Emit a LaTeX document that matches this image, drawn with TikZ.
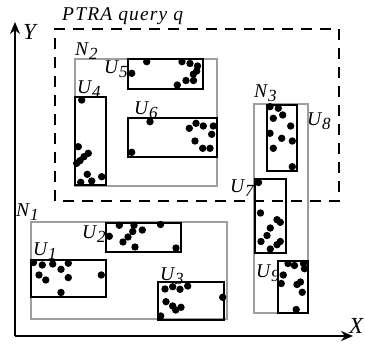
\documentclass[tikz,border=0pt]{standalone}
\usepackage{fontspec}
\setmainfont{Liberation Serif}
\usetikzlibrary{arrows.meta}
\newcommand{\lb}[2]{#1\kern0.8pt\raisebox{-4.5pt}{\fontsize{17}{17}\selectfont #2}}
\tikzset{
  grp/.style={draw=black!38, line width=1.8pt},
  mbr/.style={draw=black, line width=1.8pt},
  qry/.style={draw=black, line width=2.8pt, dash pattern=on 11pt off 8pt},
  axis/.style={draw=black, line width=1.6pt, -{Stealth[length=12pt,width=10pt]}},
  lab/.style={anchor=base west, inner sep=0pt, font=\fontsize{19.5}{19.5}\selectfont\itshape},
  axl/.style={anchor=base west, inner sep=0pt, font=\fontsize{23}{23}\selectfont\itshape},
  pt/.style={fill=black}
}
\newcommand{\mypts}[1]{\foreach \a/\b in {#1} {\fill[pt] (\a,\b) circle (3.7pt);}}
\begin{document}
\begin{tikzpicture}[x=1pt,y=-1pt]
\useasboundingbox (0,0) rectangle (365,346);
% axes
\coordinate (O) at (15,336);
\coordinate (Ytip) at (15,22);
\coordinate (Xtip) at (353,336);
\draw[axis] (O) -- (Ytip);
\draw[axis] (O) -- (Xtip);
\node[axl] (Y) at (23,39) {Y};
\node[axl] (X) at (349,333) {X};
% query
\draw[qry] (55,201) -- (55,29) -- (339,29) -- (339,201) -- cycle;
\node[lab, font=\fontsize{19.5}{19.5}\selectfont\itshape\addfontfeatures{LetterSpace=6}] (Q) at (62,20) {PTRA query q};
% N2
\draw[grp] (75,59) rectangle (217,186);
\draw[mbr] (128,59) rectangle (203,89);
\draw[mbr] (75,97) rectangle (106,185);
\draw[mbr] (128,118) rectangle (217,157);
% N3
\draw[grp] (254,104) rectangle (308,313);
\draw[mbr] (267,105) rectangle (297,171);
\draw[mbr] (255,179) rectangle (286,253);
\draw[mbr] (278,261) rectangle (308,313);
% N1
\draw[grp] (31,222) rectangle (227,319);
\draw[mbr] (31,260) rectangle (106,297);
\draw[mbr] (106,223) rectangle (181,252);
\draw[mbr] (158,282) rectangle (224,320);
% labels
\node[lab] (N2) at (75,55) {\lb{N}{2}};
\node[lab] (U5) at (104,73) {\lb{U}{5}};
\node[lab] (U4) at (77,93) {\lb{U}{4}};
\node[lab] (U6) at (134,114) {\lb{U}{6}};
\node[lab] (N3) at (254,97) {\lb{N}{3}};
\node[lab] (U8) at (307,125) {\lb{U}{8}};
\node[lab] (U7) at (230,192) {\lb{U}{7}};
\node[lab] (U9) at (256,277) {\lb{U}{9}};
\node[lab] (N1) at (16,216) {\lb{N}{1}};
\node[lab] (U2) at (82,238) {\lb{U}{2}};
\node[lab] (U1) at (33,255) {\lb{U}{1}};
\node[lab] (U3) at (160,280) {\lb{U}{3}};
% points
\mypts{131.7/73.3,146.7/61.7,182/61.7,190/63.5,197.5/66,196.7/71,193.3/74.3,186/80.5,193.5/80.5,177.3/85}
\mypts{81.7/100,78.3/146.7,88.3/153.3,84/156.7,80/160.7,76.7/163.3,87.3/174.3,101.7/176.7,91.7/181,80.7/182.3}
\mypts{150/121.7,131.7/152.3,189.3/128.3,196/123.3,203.3/126,213.3/126,211.7/134.3,195/141,202.7/148.3,210/148.3}
\mypts{270/106.7,278.3/108.3,273.3/118.3,282.7/115,290.7/126,270/133.3,281.7/138.3,292.3/141,273.3/148.3,292.3/166.7}
\mypts{258.5/182.5,260.5/213,277/219.7,280.3/222.3,270.3/228,267/235.5,261/241.5,280.3/241.5,277/244.7,270.3/249}
\mypts{288/263.5,294.5/265.5,303.5/263.5,304.5/268.7,283.3/275,300.5/282,297/284.5,281.3/283.5,302.2/292.3,296.2/309.5}
\mypts{33.5/262.5,42.3/265,52.7/264,68.3/263.2,61/269.3,39/275,45.8/280,68.3/277.6,101.3/275,61/292.5}
\mypts{119.3/225.3,134/225.3,160.5/224.5,109.3/236.3,132.7/231.5,142.3/230,128/237,123/242,135/247,176/248}
\mypts{165/289,172.7/286.7,180/289.3,187.7/286,222.7/297.3,166/301.7,172.7/306,175.7/310,181/307.3,160.7/316}
\end{tikzpicture}
\end{document}
